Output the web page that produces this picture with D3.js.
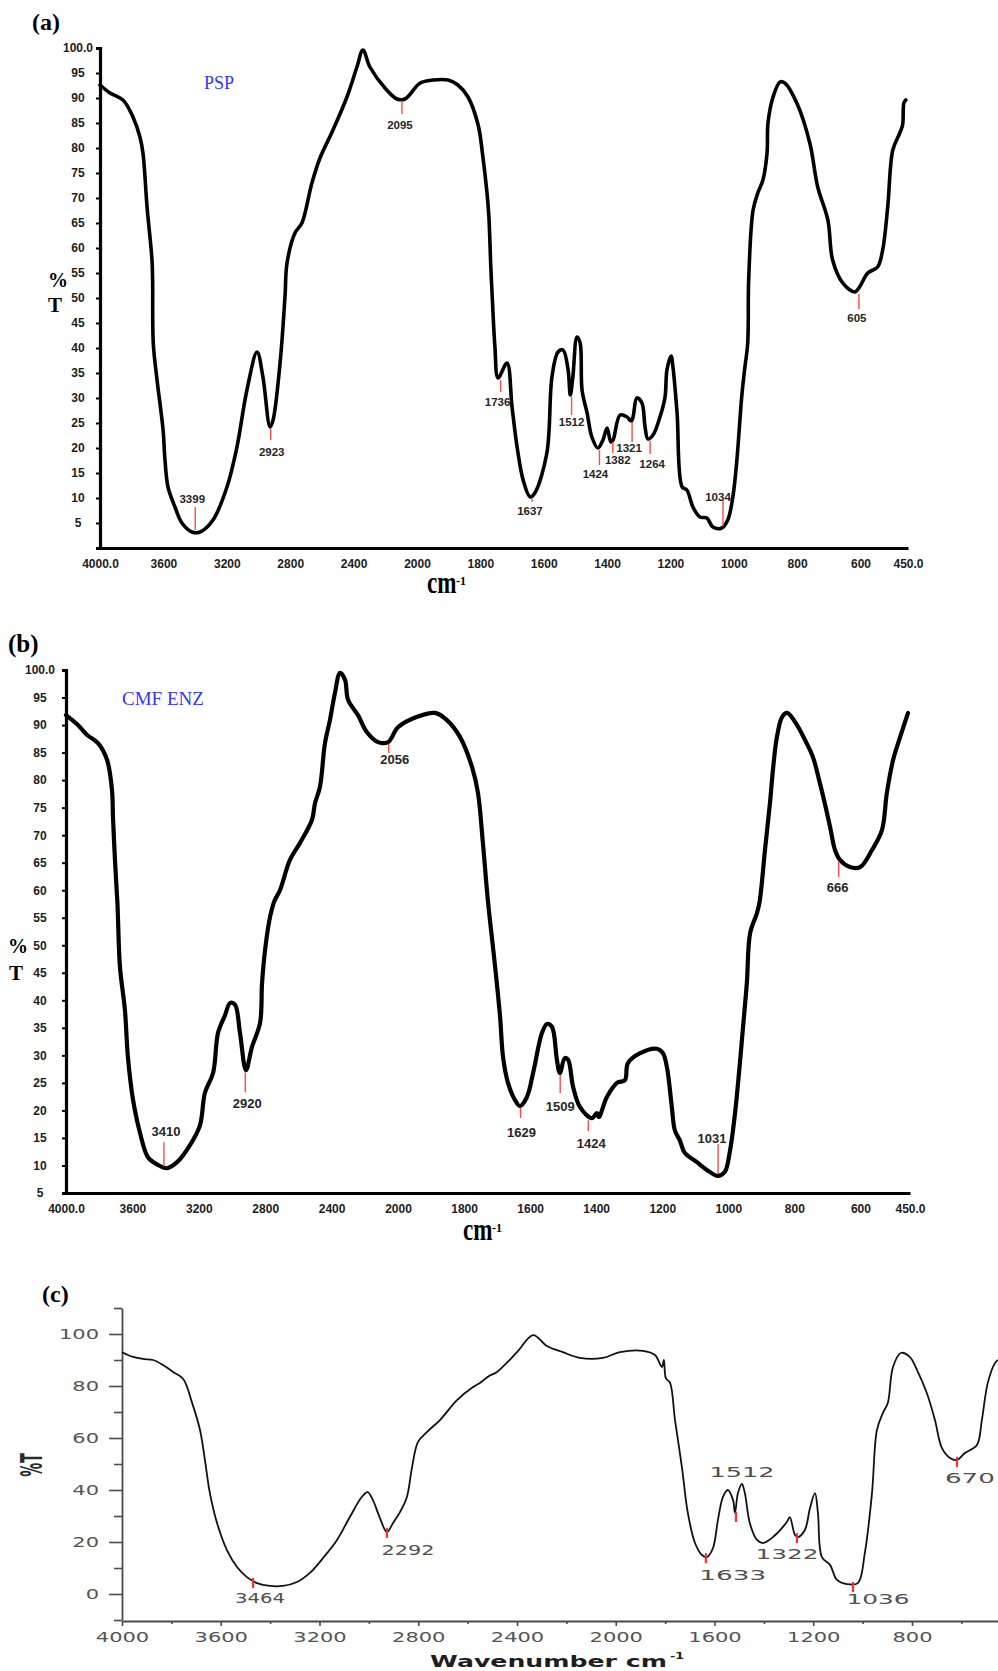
<!DOCTYPE html>
<html>
<head>
<meta charset="utf-8">
<script src="https://cdn.jsdelivr.net/npm/d3@7"></script>
<style>
  html, body { margin: 0; padding: 0; background: #fff; }
  svg { display: block; }
</style>
</head>
<body>
<div id="chart"></div>
<script>
// ---------- data (wavenumber cm-1, %T) ----------

// (a) PSP
const spectrumPSP = [
  [4000, 92.6], [3937, 91], [3855, 89.6], [3792, 86.2], [3748, 82.2], [3729, 79],
  [3703, 68.2], [3672, 57.6], [3668, 53.6], [3664, 41], [3640, 33.6], [3602, 23.6],
  [3590, 17.6], [3571, 12.2], [3527, 8.2], [3483, 5], [3420, 3.2], [3369, 3.2],
  [3287, 5.6], [3199, 12.2], [3136, 20.2], [3073, 31.6], [3009, 39.2], [2972, 34.2],
  [2927, 24.2], [2908, 25.6], [2864, 37], [2833, 50.2], [2820, 57], [2770, 63],
  [2726, 65], [2663, 73], [2612, 78], [2530, 83.6], [2442, 90.2], [2379, 96.2],
  [2341, 99.6], [2297, 96.2], [2202, 92], [2126, 89.8], [2076, 89.8], [1990, 93],
  [1949, 93.6], [1902, 93.6], [1871, 92.6], [1839, 90.2], [1807, 84.6], [1792, 78.2],
  [1779, 71], [1773, 66.2], [1767, 56.2], [1762, 49.6], [1754, 40.2], [1744, 34],
  [1716, 37], [1700, 28.2], [1684, 20.2], [1665, 13.6], [1643, 10.2], [1628, 11],
  [1590, 19], [1574, 34.2], [1555, 39.2], [1539, 39.6], [1523, 35.6], [1516, 30.6],
  [1508, 34.2], [1495, 42.2], [1485, 41], [1479, 31.6], [1463, 27], [1448, 22.2],
  [1429, 20], [1413, 21.6], [1400, 24], [1388, 21.2], [1381, 21.6], [1359, 26.6],
  [1337, 26.2], [1324, 25.4], [1318, 26.2], [1306, 30], [1290, 29], [1280, 24.2],
  [1271, 21.8], [1255, 22.6], [1233, 26.2], [1217, 30.2], [1211, 35.6], [1198, 38.4],
  [1192, 36.2], [1179, 27], [1163, 12.2], [1148, 11.6], [1129, 8.2], [1107, 6.2],
  [1085, 6], [1066, 4.2], [1038, 4], [1019, 5.6], [1003, 10.2], [991, 17],
  [975, 30.2], [966, 35.6], [956, 41], [953, 53.6], [939, 67.6], [923, 71.2],
  [908, 73.6], [895, 79], [892, 85], [876, 90.2], [854, 93.2], [839, 93],
  [801, 89], [760, 81], [735, 72.2], [703, 65.6], [688, 57.6], [656, 53],
  [618, 51.2], [603, 52.2], [577, 55], [546, 56.2], [530, 59.6], [514, 68.2],
  [498, 79.6], [476, 83], [467, 84.6], [463, 89], [457, 89.6]
];
const peaksPSP = [3399, 2923, 2095, 1736, 1637, 1512, 1424, 1382, 1321, 1264, 1034, 605];
const peakTPSP = [3.2, 24.2, 89.8, 34, 10.2, 30.6, 20, 21.6, 25.6, 21.8, 4, 51.2];

// (b) CMF ENZ
const spectrumENZ = [
  [4000, 91.8], [3928, 90], [3873, 88.2], [3807, 86.7], [3753, 83.7], [3723, 78.2],
  [3717, 73.3], [3705, 65.5], [3690, 57.5], [3675, 46.1], [3645, 38.2], [3627, 29.7],
  [3596, 21.9], [3554, 15.9], [3506, 11.5], [3446, 10.1], [3392, 9.5], [3331, 10.6],
  [3253, 13.7], [3193, 17.3], [3163, 23.2], [3114, 26.8], [3084, 34.1], [3042, 37.3],
  [3012, 39.5], [2982, 39.2], [2952, 34.1], [2916, 27.3], [2880, 31.5], [2831, 35.9],
  [2819, 43.1], [2801, 49.1], [2771, 55.1], [2745, 58], [2711, 60], [2651, 65.5],
  [2590, 68.6], [2518, 72.8], [2500, 75.8], [2470, 78.8], [2440, 86.7], [2410, 90.9],
  [2380, 95.8], [2349, 99.5], [2319, 98.2], [2301, 94.6], [2241, 91.8], [2187, 88.7],
  [2120, 86.9], [2060, 86.9], [2000, 89.6], [1942, 91.5], [1888, 92.2], [1852, 90.9],
  [1812, 87.8], [1776, 82.4], [1758, 77.7], [1743, 68.6], [1728, 58.2], [1706, 46.1],
  [1691, 37], [1682, 29.7], [1667, 25], [1646, 21.9], [1631, 20.8], [1610, 22.4],
  [1591, 26.8], [1564, 34.1], [1549, 35.7], [1534, 35.2], [1519, 29.2], [1510, 26.8],
  [1495, 29.5], [1485, 29.2], [1470, 24.3], [1449, 20.6], [1413, 18.6], [1398, 19.5],
  [1392, 18.8], [1368, 22.4], [1337, 25], [1313, 25.5], [1304, 28.6], [1267, 30.4],
  [1216, 31.2], [1198, 30.4], [1186, 27.9], [1171, 20.6], [1162, 16.4], [1147, 14.6],
  [1132, 12.3], [1095, 10.6], [1065, 9.2], [1032, 8.1], [1011, 8.8], [996, 12.3],
  [981, 18.8], [966, 27.9], [957, 34.1], [944, 43.1], [934, 52.2], [913, 55.9],
  [905, 58], [889, 67.3], [874, 75.8], [865, 81.8], [853, 87.8], [837, 91.5],
  [822, 92.2], [792, 90], [768, 87.3], [744, 84.2], [723, 79.5], [708, 75.8],
  [692, 71.5], [677, 67.3], [662, 65.5], [632, 64.2], [601, 64.2], [565, 67.3],
  [535, 70.9], [520, 77.7], [501, 83.7], [480, 87.8], [456, 92.2]
];
const peaksENZ = [3410, 2920, 2056, 1629, 1509, 1424, 1031, 666];
const peakTENZ = [9.5, 27.3, 86.9, 20.8, 26.8, 18.6, 8.1, 65.5];

// (c)
const spectrumC = [
  [4000, 93], [3955, 91.2], [3915, 90.4], [3874, 90], [3834, 88.1], [3793, 85.4],
  [3752, 82.7], [3717, 73.8], [3684, 63.1], [3664, 51.5], [3644, 38.8], [3615, 27.3],
  [3575, 16.9], [3534, 10.4], [3494, 6.5], [3453, 4.2], [3401, 3.1], [3348, 3.1],
  [3291, 4.6], [3239, 8.1], [3186, 13.8], [3129, 20.8], [3077, 29.6], [3029, 37.3],
  [3005, 39.2], [2984, 36.2], [2955, 29.2], [2927, 23.8], [2902, 27.3], [2874, 31.5],
  [2846, 37.3], [2825, 48.8], [2801, 58.5], [2765, 62.3], [2712, 66.9], [2643, 74.6],
  [2578, 79.6], [2550, 81.2], [2510, 84], [2481, 85.4], [2400, 93], [2335, 99.6],
  [2279, 95.4], [2214, 93], [2145, 90.8], [2052, 90.8], [1983, 93], [1890, 93.5],
  [1841, 91.9], [1813, 87.3], [1805, 90], [1797, 83], [1780, 81.2], [1760, 66.9],
  [1732, 48.8], [1708, 31.2], [1679, 19.6], [1651, 15], [1631, 14.2], [1606, 17.7],
  [1586, 28.5], [1566, 37.3], [1546, 40], [1525, 36.2], [1517, 31.2], [1505, 38.8],
  [1489, 42.3], [1477, 38.8], [1457, 27.3], [1428, 20.8], [1404, 19.6], [1363, 21.9],
  [1307, 27.7], [1295, 29.6], [1274, 22.7], [1262, 21.9], [1234, 24.6], [1213, 33.1],
  [1193, 38.8], [1181, 31.2], [1165, 14.2], [1132, 11.2], [1104, 5.4], [1064, 3.8],
  [1019, 4.2], [991, 15.8], [962, 38.8], [942, 63.1], [918, 69.6], [898, 73.5],
  [877, 87.3], [845, 92.7], [809, 91.2], [780, 86.2], [740, 77.3], [707, 66.9],
  [679, 56.2], [646, 52.3], [618, 51.5], [586, 54.2], [537, 57.3], [517, 66.9],
  [493, 81.2], [464, 88.8], [452, 90]
];
const peakPosC = [3469, 2927, 1635, 1513, 1266, 1039, 618];
const peakTC = [4.2, 23.5, 13.8, 29.6, 21.5, 2.7, 50.8];
const peakLabelsC = ['3464', '2292', '1633', '1512', '1322', '1036', '670'];

// axis ticks
const xTicksAB = [4000, 3600, 3200, 2800, 2400, 2000, 1800, 1600, 1400, 1200, 1000, 800, 600, 450];
const yTicksAB = [5, 10, 15, 20, 25, 30, 35, 40, 45, 50, 55, 60, 65, 70, 75, 80, 85, 90, 95, 100];
const xTicksC = [4000, 3600, 3200, 2800, 2400, 2000, 1600, 1200, 800];
const xMinorC = [3800, 3400, 3000, 2600, 2200, 1800, 1400, 1000, 600];
const yTicksC = [0, 20, 40, 60, 80, 100];
const yMinorC = [-10, 10, 30, 50, 70, 90, 110];

// ---------- drawing ----------
const sansB = '"Liberation Sans", Arial, sans-serif';
const serif = '"Liberation Serif", "Times New Roman", serif';
const wide = '"DejaVu Sans", Verdana, sans-serif';

const svg = d3.select('#chart').append('svg')
  .attr('width', 998)
  .attr('height', 1671)
  .style('background', '#fff');

function plainText(g, str, x, y, font, size, weight, fill) {
  return g.append('text')
    .attr('x', x).attr('y', y)
    .style('font-family', font)
    .style('font-size', size + 'px')
    .style('font-weight', weight)
    .attr('fill', fill)
    .text(str);
}

/**
 * Panels (a) and (b): split wavenumber scale (2000 cm-1 break), bold labels
 * layout entries: [leader length, label gap, label dx]
 */
function drawPanelAB(opt) {
  const g = svg.append('g');
  const x = d3.scaleLinear().domain([4000, 2000, 450]).range(opt.xRange);
  const y = d3.scaleLinear().domain(opt.yDomain).range(opt.yRange);
  const x0 = opt.xRange[0];
  const yBase = opt.yRange[0];

  // x axis
  const gx = g.append('g')
    .attr('transform', `translate(0,${yBase})`)
    .call(d3.axisBottom(x)
      .tickValues(xTicksAB)
      .tickSize(0)
      .tickSizeOuter(0)
      .tickPadding(opt.xPad)
      .tickFormat(d => (d === 4000 || d === 450) ? d.toFixed(1) : String(d)));
  gx.select('.domain').attr('stroke', '#000').attr('stroke-width', 3.2);
  gx.selectAll('text')
    .attr('fill', '#1c1c1c')
    .style('font-family', sansB)
    .style('font-weight', 'bold')
    .style('font-size', '12px');

  // y axis
  const gy = g.append('g')
    .attr('transform', `translate(${x0},0)`)
    .call(d3.axisLeft(y)
      .tickValues(yTicksAB)
      .tickSize(4)
      .tickSizeOuter(4)
      .tickFormat(d => d === 100 ? '100.0' : String(d)));
  gy.select('.domain').attr('stroke', '#000').attr('stroke-width', 3.2);
  gy.selectAll('.tick line').attr('stroke', '#000').attr('stroke-width', 2);
  gy.selectAll('text')
    .attr('x', opt.yLabelX - x0)
    .attr('text-anchor', 'middle')
    .attr('fill', '#1c1c1c')
    .style('font-family', sansB)
    .style('font-weight', 'bold')
    .style('font-size', '12px');

  // spectrum
  const line = d3.line()
    .x(d => x(d[0]))
    .y(d => y(d[1]))
    .curve(d3.curveCatmullRom.alpha(0.5));

  g.append('path')
    .datum(opt.data)
    .attr('d', line)
    .attr('fill', 'none')
    .attr('stroke', '#000')
    .attr('stroke-width', opt.lineW)
    .attr('stroke-linejoin', 'round')
    .attr('stroke-linecap', 'round');

  // peak leaders + labels
  opt.peaks.forEach((p, i) => {
    const [len, gap, dx] = opt.layout[i];
    const up = opt.above.includes(p);
    const px = x(p);
    const py = y(opt.peakT[i]);
    const y0 = up ? py - 2 : py + 2;
    const y1 = up ? y0 - len : y0 + len;

    g.append('line')
      .attr('x1', px).attr('x2', px)
      .attr('y1', y0).attr('y2', y1)
      .attr('stroke', '#ff4a4a')
      .attr('stroke-width', 1.4);

    g.append('text')
      .attr('x', px + dx)
      .attr('y', up ? y1 - gap : y1 + gap)
      .attr('dy', '0.35em')
      .attr('text-anchor', 'middle')
      .attr('fill', '#262626')
      .style('font-family', sansB)
      .style('font-weight', 'bold')
      .style('font-size', opt.peakFont + 'px')
      .text(p);
  });

  // panel letter, sample name, axis titles
  plainText(g, opt.letter, opt.letterPos[0], opt.letterPos[1], serif, opt.letterSize, 'bold', '#000');
  plainText(g, opt.name, opt.namePos[0], opt.namePos[1], serif, opt.nameSize, 'normal', '#3434ff');
  plainText(g, '%', opt.pctPos[0], opt.pctPos[1], serif, 20, 'bold', '#000');
  plainText(g, 'T', opt.tPos[0], opt.tPos[1], serif, 21, 'bold', '#000');

  g.append('text')
    .attr('transform', `translate(${opt.cmPos[0]},${opt.cmPos[1]}) scale(1.05,1.4)`)
    .style('font-family', serif)
    .style('font-size', '22px')
    .style('font-weight', 'bold')
    .attr('fill', '#000')
    .text('cm');
  plainText(g, '-1', opt.cmPos[0] + 29, opt.cmPos[1] - 8, serif, 12, 'bold', '#000');
}

drawPanelAB({
  data: spectrumPSP,
  peaks: peaksPSP,
  peakT: peakTPSP,
  above: [3399, 1034],
  layout: [[23, 8, -3], [11, 12, 1], [13, 11, -2], [12, 10, -3], [3, 9, -2], [18, 7, 0],
           [15, 9, -4], [11, 7, 5], [20, 6, -3], [13, 10, 2], [26, 3, -5], [15, 9, -2]],
  xRange: [100, 417, 908],
  yDomain: [0, 100],
  yRange: [548, 48],
  xPad: 11,
  yLabelX: 78,
  lineW: 3.6,
  peakFont: 11.5,
  letter: '(a)', letterPos: [32, 30], letterSize: 24,
  name: 'PSP', namePos: [204, 89], nameSize: 18,
  pctPos: [48, 287], tPos: [48, 312],
  cmPos: [427, 593]
});

drawPanelAB({
  data: spectrumENZ,
  peaks: peaksENZ,
  peakT: peakTENZ,
  above: [3410, 1031],
  layout: [[24, 11, 2], [20, 11, 2], [9, 6, 6], [10, 14, 1], [18, 13, 0], [11, 12, 3],
           [30, 5, -6], [15, 11, -1]],
  xRange: [66, 398, 910],
  yDomain: [5, 100],
  yRange: [1193, 670],
  xPad: 11,
  yLabelX: 40,
  lineW: 4.2,
  peakFont: 13,
  letter: '(b)', letterPos: [8, 652], letterSize: 25,
  name: 'CMF ENZ', namePos: [122, 705], nameSize: 19,
  pctPos: [8, 953], tPos: [9, 980],
  cmPos: [463, 1240]
});

// ---------- panel (c): linear scale, Origin-like style ----------
(function drawPanelC() {
  const g = svg.append('g');
  const x = d3.scaleLinear().domain([4000, 450]).range([122, 998.4]);
  const y = d3.scaleLinear().domain([-10, 110]).range([1620, 1308]);
  const axisColor = '#4a4a4a';
  const stretch = 1.5;

  // x axis
  const gx = g.append('g')
    .attr('transform', 'translate(0,1621)')
    .call(d3.axisBottom(x)
      .tickValues(xTicksC)
      .tickSize(5)
      .tickSizeOuter(0)
      .tickPadding(6)
      .tickFormat(d => String(d)));
  gx.select('.domain').attr('stroke', axisColor).attr('stroke-width', 1.8);
  gx.selectAll('.tick line').attr('stroke', axisColor).attr('stroke-width', 1.6);
  gx.selectAll('text')
    .attr('transform', `scale(${stretch},1)`)
    .attr('fill', '#555')
    .style('font-family', wide)
    .style('font-size', '14px');

  const gxm = g.append('g')
    .attr('transform', 'translate(0,1621)')
    .call(d3.axisBottom(x).tickValues(xMinorC).tickSize(3).tickFormat(''));
  gxm.select('.domain').remove();
  gxm.selectAll('.tick line').attr('stroke', axisColor).attr('stroke-width', 1.6);

  // y axis
  const gy = g.append('g')
    .attr('transform', 'translate(122,0)')
    .call(d3.axisLeft(y)
      .tickValues(yTicksC)
      .tickSize(13)
      .tickSizeOuter(0)
      .tickFormat(d => String(d)));
  gy.select('.domain').attr('stroke', axisColor).attr('stroke-width', 1.8);
  gy.selectAll('.tick line').attr('stroke', axisColor).attr('stroke-width', 1.6);
  gy.selectAll('text')
    .attr('x', -23 / stretch)
    .attr('transform', `scale(${stretch},1)`)
    .attr('fill', '#555')
    .style('font-family', wide)
    .style('font-size', '14px');

  const gym = g.append('g')
    .attr('transform', 'translate(122,0)')
    .call(d3.axisLeft(y).tickValues(yMinorC).tickSize(8).tickFormat(''));
  gym.select('.domain').remove();
  gym.selectAll('.tick line').attr('stroke', axisColor).attr('stroke-width', 1.6);

  // spectrum
  const line = d3.line()
    .x(d => x(d[0]))
    .y(d => y(d[1]))
    .curve(d3.curveCatmullRom.alpha(0.5));

  g.append('path')
    .datum(spectrumC)
    .attr('d', line)
    .attr('fill', 'none')
    .attr('stroke', '#111')
    .attr('stroke-width', 1.8)
    .attr('stroke-linejoin', 'round');

  // peak marks: [label dy, label dx, label width]
  const layoutC = [[15, 7, 50], [17, 21, 53], [17, 27, 67], [-45, 6, 65], [16, -10, 63], [12, 25, 63], [16, 13, 50]];
  peakPosC.forEach((p, i) => {
    const [dy, dx, w] = layoutC[i];
    const px = x(p);
    const py = y(peakTC[i]);
    g.append('line')
      .attr('x1', px).attr('x2', px)
      .attr('y1', py - 5).attr('y2', py + 5)
      .attr('stroke', '#ff2d2d')
      .attr('stroke-width', 2.2);
    g.append('text')
      .attr('x', px + dx - w / 2)
      .attr('y', py + dy)
      .attr('dy', '0.36em')
      .attr('textLength', w)
      .attr('lengthAdjust', 'spacingAndGlyphs')
      .attr('fill', '#505050')
      .style('font-family', wide)
      .style('font-size', '14px')
      .text(peakLabelsC[i]);
  });

  // titles
  plainText(g, '(c)', 42, 1302, serif, 24, 'bold', '#000');

  g.append('text')
    .attr('x', 430).attr('y', 1667)
    .attr('textLength', 237)
    .attr('lengthAdjust', 'spacingAndGlyphs')
    .attr('fill', '#1e1e1e')
    .style('font-family', wide)
    .style('font-size', '15px')
    .style('font-weight', 'bold')
    .text('Wavenumber cm');
  g.append('text')
    .attr('x', 670).attr('y', 1659)
    .attr('textLength', 14)
    .attr('lengthAdjust', 'spacingAndGlyphs')
    .attr('fill', '#1e1e1e')
    .style('font-family', wide)
    .style('font-size', '9px')
    .style('font-weight', 'bold')
    .text('-1');

  g.append('text')
    .attr('transform', 'translate(31,1465) scale(2.1,1) rotate(-90)')
    .attr('text-anchor', 'middle')
    .attr('dy', '0.36em')
    .attr('fill', '#2a2a2a')
    .style('font-family', wide)
    .style('font-size', '14px')
    .style('font-weight', 'bold')
    .text('%T');
})();
</script>
</body>
</html>
